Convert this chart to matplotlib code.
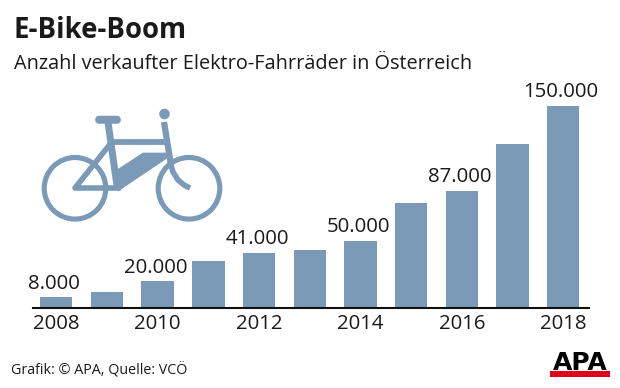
import matplotlib
matplotlib.use('Agg')
import matplotlib.pyplot as plt
from matplotlib.patches import Circle, Polygon, FancyBboxPatch, Rectangle

plt.rcParams['font.family'] = ['Open Sans', 'DejaVu Sans']

years = [2008, 2009, 2010, 2011, 2012, 2013, 2014, 2015, 2016, 2017, 2018]
sales = [8000, 12000, 20000, 35000, 41000, 43000, 50000, 78000, 87000, 122000, 150000]
labeled_years = [2008, 2010, 2012, 2014, 2016, 2018]
value_labels = {2008: '8.000', 2010: '20.000', 2012: '41.000', 2014: '50.000',
                2016: '87.000', 2018: '150.000'}

BLUE = '#7a9ab8'
W, H = 620, 388

fig = plt.figure(figsize=(W / 100, H / 100), dpi=100)

# bars, placed to the pixel grid of the reference
ax = fig.add_axes([33 / W, (H - 308) / H, (589 - 33) / W, 248 / H])
ax.bar(years, sales, width=0.64, color=BLUE)
ax.set_xlim(2008 - 23.25 / 50.7, 2018 + 25.75 / 50.7)
ax.set_ylim(0, 248 / 1.347 * 1000)
for s in ['top', 'left', 'right']:
    ax.spines[s].set_visible(False)
ax.spines['bottom'].set_linewidth(1.5)
ax.spines['bottom'].set_color('#111111')
ax.set_yticks([])
ax.set_xticks(labeled_years)
ax.set_xticklabels(labeled_years, fontsize=14.7, color='#1a1a1a')
ax.tick_params(axis='x', length=0, pad=4)
ax.patch.set_alpha(0)
for y, label in value_labels.items():
    ax.annotate(label, (y, sales[years.index(y)]), xytext=(-1.5, 2.5), textcoords='offset points',
                ha='center', va='bottom', fontsize=14.7, color='#1a1a1a')

# overlay in pixel coordinates for the headline, icon and logo
ov = fig.add_axes([0, 0, 1, 1])
ov.set_xlim(0, W)
ov.set_ylim(H, 0)
ov.axis('off')
ov.patch.set_alpha(0)

ov.text(14, 31, 'E-Bike-Boom', fontsize=19.8, fontweight='bold', va='center', color='#1a1a1a')
ov.text(14, 64, 'Anzahl verkaufter Elektro-Fahrräder in Österreich', fontsize=14.3,
        va='center', color='#1a1a1a')
ov.text(11, 370, 'Grafik: © APA, Quelle: VCÖ', fontsize=10.3, va='center', color='#1a1a1a')

# bicycle icon
for cx in (75, 189):
    ov.add_patch(Circle((cx, 188.3), 30.8, fill=False, ec=BLUE, lw=3.7))
ov.add_patch(Circle((164.5, 114), 5.3, color=BLUE, lw=0))
ov.add_patch(FancyBboxPatch((97, 117.5), 22, 4.5, boxstyle='round,pad=0,rounding_size=2',
                            fc=BLUE, ec=BLUE, lw=2.5))
# frame: seat post, top tube, head tube, fork, lower triangle, battery
ov.plot([108, 117], [122, 186], color=BLUE, lw=5, solid_capstyle='butt')
ov.plot([110, 166], [142, 142], color=BLUE, lw=4.2, solid_capstyle='butt')
ov.plot([164, 171], [122, 165], color=BLUE, lw=4.5, solid_capstyle='butt')
ov.plot([171, 173, 178, 184, 190], [165, 172, 180, 185, 188], color=BLUE, lw=4, solid_capstyle='butt')
ov.plot([111, 75, 118], [143, 188, 188], color=BLUE, lw=4, solid_joinstyle='round')
ov.add_patch(Polygon([[117, 170], [143, 153], [166, 153], [170, 156], [118, 191]],
                     closed=True, fc=BLUE, ec=BLUE, lw=0.5))

# APA logo
ov.text(580, 370.5, 'APA', fontsize=18, fontweight='bold', family='DejaVu Sans',
        ha='center', va='baseline', color='black')
ov.add_patch(Rectangle((550, 370.5), 60, 6.5, fc='#e2001a', ec='none'))

fig.savefig('out.png', dpi=100)
